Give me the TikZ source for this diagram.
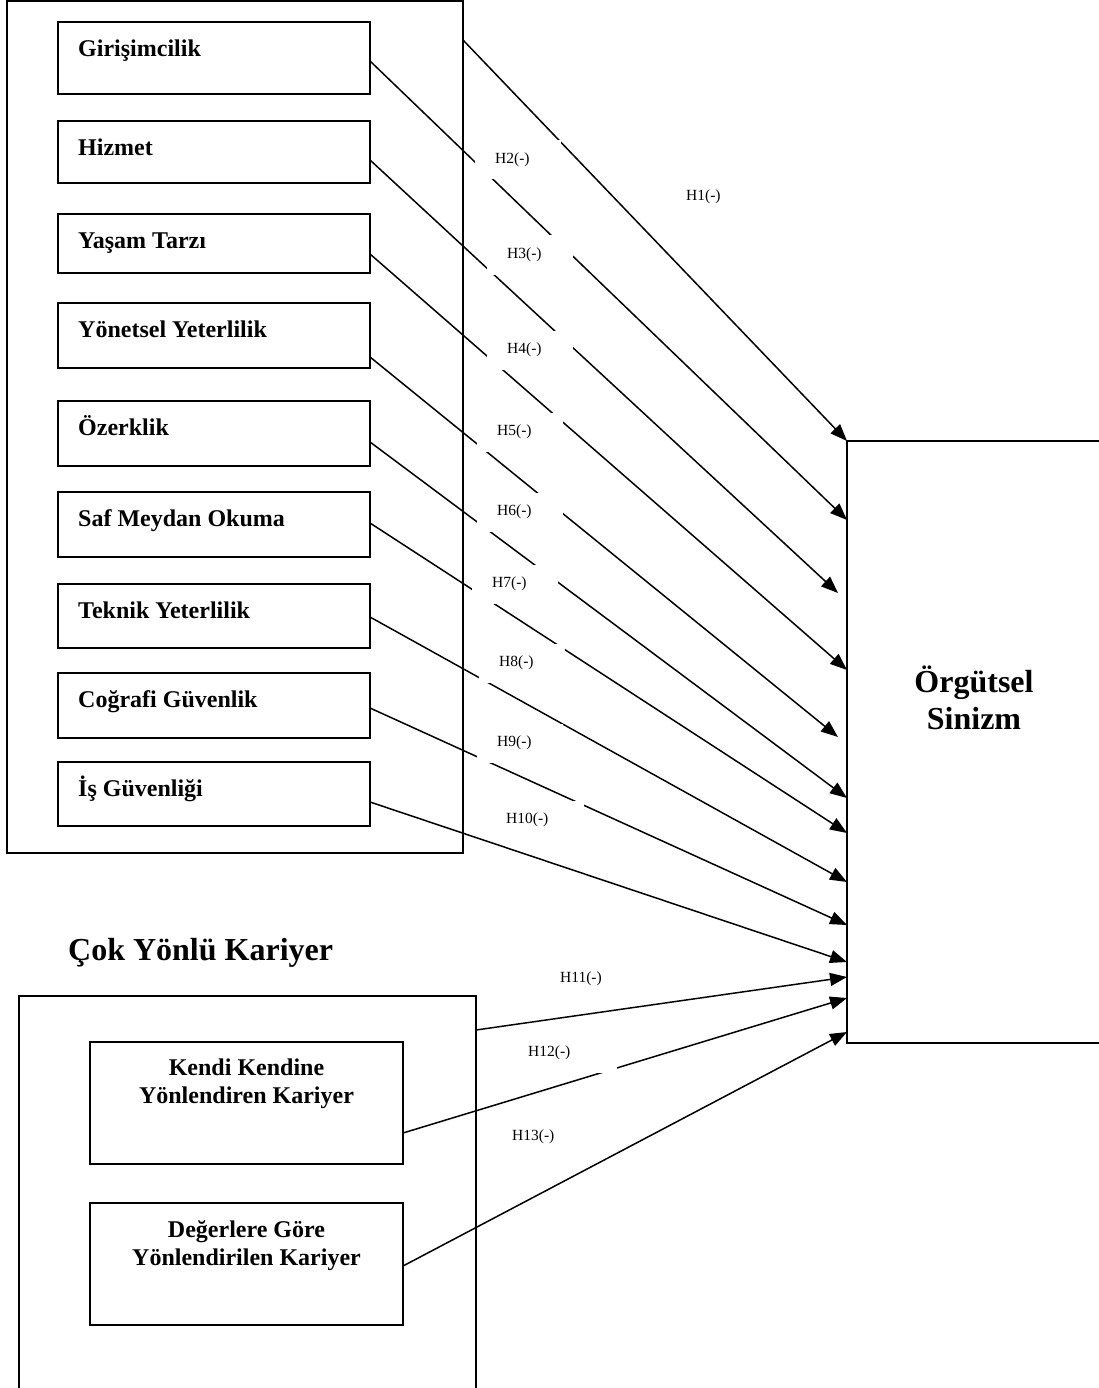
\documentclass[tikz,border=0pt]{standalone}
\usepackage{fontspec}
\setmainfont{Liberation Serif}
\usetikzlibrary{arrows.meta,calc}
\begin{document}
\begin{tikzpicture}[x=1pt,y=-1pt,
  box/.style={draw, line width=1.8pt, outer sep=0pt, inner sep=0pt},
  btxt/.style={font=\bfseries\fontsize{24}{28}\selectfont, anchor=base west, inner sep=0pt},
  ctxt/.style={font=\bfseries\fontsize{24}{28}\selectfont, anchor=base, inner sep=0pt},
  ttxt/.style={font=\bfseries\fontsize{32}{37}\selectfont, anchor=base, inner sep=0pt},
  lbl/.style={fill=white, inner sep=0pt, text width=#1, align=left, minimum height=39pt, anchor=west, font=\fontsize{15.5}{18}\selectfont},
  lbl/.default=86pt,
  arr/.style={line width=1.5pt, -{Triangle[length=17pt,width=13pt]}}]
\useasboundingbox (0,0) rectangle (1099,1388);
\clip (0,0) rectangle (1099,1388);

% outer boxes
\node[box, minimum width=456pt, minimum height=852pt] (big) at (235,427) {};
\node[box, minimum width=457pt, minimum height=404pt] (bot) at (247.5,1198) {};
\node[box, minimum width=268pt, minimum height=602pt] (org) at (981,742) {};

% inner boxes (career anchors)
\node[box, minimum width=312pt, minimum height=72pt] (b1) at (214,58) {};
\node[box, minimum width=312pt, minimum height=62pt] (b2) at (214,152) {};
\node[box, minimum width=312pt, minimum height=59pt] (b3) at (214,243.5) {};
\node[box, minimum width=312pt, minimum height=65pt] (b4) at (214,335.5) {};
\node[box, minimum width=312pt, minimum height=65pt] (b5) at (214,433.5) {};
\node[box, minimum width=312pt, minimum height=65pt] (b6) at (214,524.5) {};
\node[box, minimum width=312pt, minimum height=64pt] (b7) at (214,616) {};
\node[box, minimum width=312pt, minimum height=65pt] (b8) at (214,705.5) {};
\node[box, minimum width=312pt, minimum height=64pt] (b9) at (214,794) {};

\node[btxt] (t1) at ($(b1.north west)+(20,34.5)$) {Girişimcilik};
\node[btxt] (t2) at ($(b2.north west)+(20,34.5)$) {Hizmet};
\node[btxt] (t3) at ($(b3.north west)+(20,34.5)$) {Yaşam Tarzı};
\node[btxt] (t4) at ($(b4.north west)+(20,34.5)$) {Yönetsel Yeterlilik};
\node[btxt] (t5) at ($(b5.north west)+(20,34.5)$) {Özerklik};
\node[btxt] (t6) at ($(b6.north west)+(20,34.5)$) {Saf Meydan Okuma};
\node[btxt] (t7) at ($(b7.north west)+(20,34.5)$) {Teknik Yeterlilik};
\node[btxt] (t8) at ($(b8.north west)+(20,34.5)$) {Coğrafi Güvenlik};
\node[btxt] (t9) at ($(b9.north west)+(20,34.5)$) {İş Güvenliği};

% protean career
\node[btxt, font=\bfseries\fontsize{32}{37}\selectfont] (cok) at (68,960) {Çok Yönlü Kariyer};
\node[box, minimum width=313pt, minimum height=122pt] (k1) at (246.5,1103) {};
\node[box, minimum width=313pt, minimum height=122pt] (k2) at (246.5,1264) {};
\node[ctxt] (k1a) at ($(k1.north)+(0,33)$) {Kendi Kendine};
\node[ctxt] (k1b) at ($(k1.north)+(0,61)$) {Yönlendiren Kariyer};
\node[ctxt] (k2a) at ($(k2.north)+(0,34)$) {Değerlere Göre};
\node[ctxt] (k2b) at ($(k2.north)+(0,62)$) {Yönlendirilen Kariyer};

% outcome
\node[ttxt] (o1) at ($(org.north west)+(127,251)$) {Örgütsel};
\node[ttxt] (o2) at ($(org.north west)+(127,288)$) {Sinizm};

% arrows
\draw[arr] ($(big.north east)+(0,39)$) -- (org.north west);
\draw[arr] ($(b1.east)+(0,3)$)    -- ($(org.north west)+(0,79)$);
\draw[arr] ($(b2.east)+(0,8)$)    -- ($(org.north west)+(-9,152)$);
\draw[arr] ($(b3.east)+(0,10.5)$) -- ($(org.north west)+(0,229)$);
\draw[arr] ($(b4.east)+(0,21.5)$) -- ($(org.north west)+(-9,296)$);
\draw[arr] ($(b5.east)+(0,8.5)$)  -- ($(org.north west)+(0,357)$);
\draw[arr] ($(b6.east)+(0,-1.5)$) -- ($(org.north west)+(0,392)$);
\draw[arr] ($(b7.east)+(0,1)$)    -- ($(org.north west)+(0,441)$);
\draw[arr] ($(b8.east)+(0,2.5)$)  -- ($(org.north west)+(0,484)$);
\draw[arr] ($(b9.east)+(0,8)$)    -- ($(org.north west)+(0,521)$);
\draw[arr] ($(bot.north east)+(0,34)$) -- ($(org.north west)+(0,536)$);
\draw[arr] ($(k1.east)+(0,30)$)   -- ($(org.north west)+(0,557)$);
\draw[arr] ($(k2.east)+(0,2)$)    -- ($(org.north west)+(0,591)$);

% labels
\node[lbl] (h1) at (666,197) {\hspace*{20pt}H1(-)};
\node[lbl] (h2) at (475,160) {\hspace*{20pt}H2(-)};
\node[lbl] (h3) at (487,255) {\hspace*{20pt}H3(-)};
\node[lbl] (h4) at (487,350) {\hspace*{20pt}H4(-)};
\node[lbl] (h5) at (477,432) {\hspace*{20pt}H5(-)};
\node[lbl] (h6) at (477,512) {\hspace*{20pt}H6(-)};
\node[lbl] (h7) at (472,584) {\hspace*{20pt}H7(-)};
\node[lbl] (h8) at (479,663) {\hspace*{20pt}H8(-)};
\node[lbl] (h9) at (477,743) {\hspace*{20pt}H9(-)};
\node[lbl=98pt] (h10) at (486,820) {\hspace*{20pt}H10(-)};
\node[lbl=98pt] (h11) at (540,979) {\hspace*{20pt}H11(-)};
\node[lbl=109pt] (h12) at (508,1053) {\hspace*{20pt}H12(-)};
\node[lbl=98pt] (h13) at (492,1137) {\hspace*{20pt}H13(-)};
\end{tikzpicture}
\end{document}
